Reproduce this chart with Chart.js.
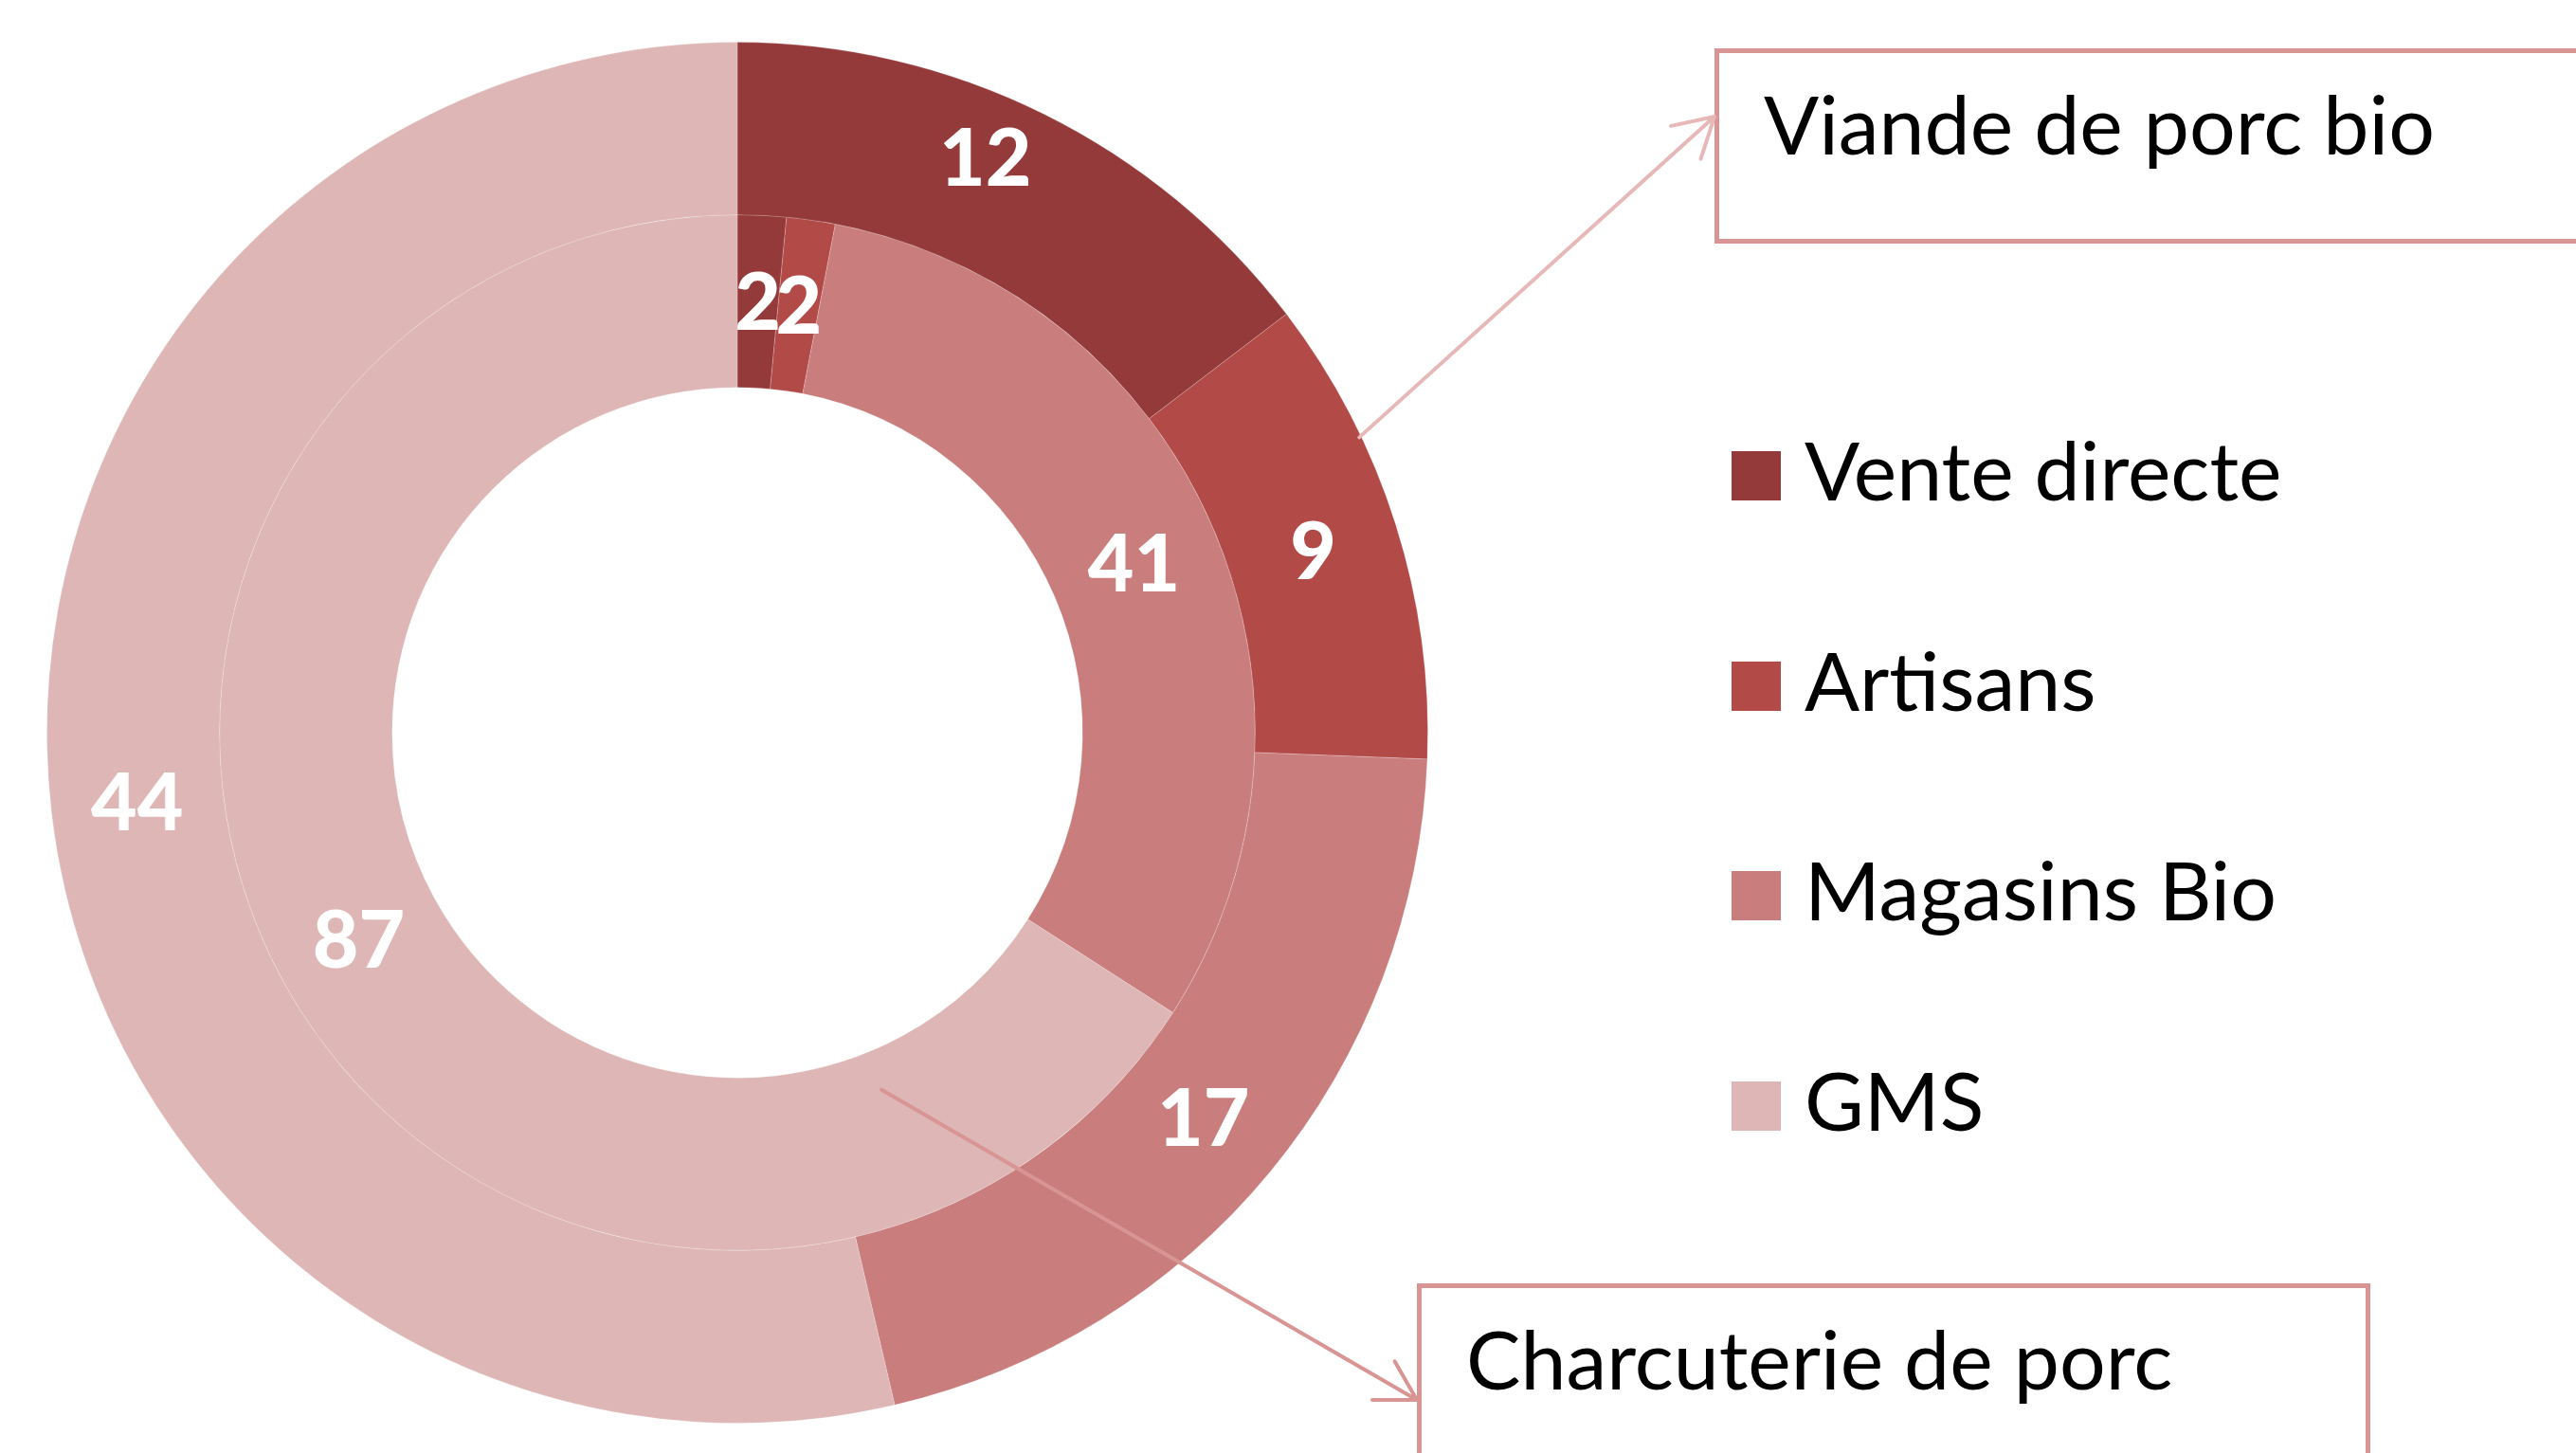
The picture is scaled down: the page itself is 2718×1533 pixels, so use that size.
<!DOCTYPE html>
<html><head><meta charset="utf-8">
<script src="https://cdn.jsdelivr.net/npm/chart.js@4.4.0/dist/chart.umd.min.js"></script>
<style>
html,body{margin:0;padding:0;background:#fff;width:2718px;height:1533px;overflow:hidden;font-family:Lato,sans-serif}
.box{position:absolute;border:5px solid #D99594;box-sizing:border-box;background:#fff;z-index:1}
.lbl{position:absolute;font-size:86px;line-height:1;color:#000;white-space:nowrap;z-index:3}
.sw{position:absolute;width:52px;height:52px;z-index:3}
#cv{position:absolute;left:0;top:0;z-index:2}
</style></head>
<body>
<div id="box1" class="box" style="left:1809px;top:51px;width:1000px;height:206px"></div>
<div id="box2" class="box" style="left:1495px;top:1354px;width:1006px;height:300px"></div>
<div id="legend"></div>
<div id="callouts"></div>
<canvas id="cv" width="2718" height="1533"></canvas>
<script>
const categories = ['Vente directe', 'Artisans', 'Magasins Bio', 'GMS'];
const seriesNames = ['Viande de porc bio', 'Charcuterie de porc'];
const viandeValues = [12, 9, 17, 44];
const charcuterieValues = [2, 2, 41, 87];
const colors = ['#953A3A', '#B24A48', '#C97D7D', '#DEB6B6'];

// legend
const legend = document.getElementById('legend');
categories.forEach((c, i) => {
  const rowBase = 528 + i * 221.7;
  const sw = document.createElement('div');
  sw.className = 'sw';
  sw.style.left = '1827px';
  sw.style.top = (rowBase - 52) + 'px';
  sw.style.background = colors[i];
  legend.appendChild(sw);
  const t = document.createElement('div');
  t.className = 'lbl';
  t.style.left = '1904px';
  t.style.top = (rowBase - 76) + 'px';
  t.textContent = c;
  legend.appendChild(t);
});
// callout texts
const callouts = document.getElementById('callouts');
[[seriesNames[0], 1861, 163], [seriesNames[1], 1547, 1466]].forEach(([s, x, b]) => {
  const t = document.createElement('div');
  t.className = 'lbl';
  t.style.left = x + 'px';
  t.style.top = (b - 76) + 'px';
  t.textContent = s;
  callouts.appendChild(t);
});

const labelPlugin = {
  id: 'labels',
  afterDatasetsDraw(chart) {
    const ctx = chart.ctx;
    ctx.save();
    ctx.fillStyle = '#fff';
    ctx.font = '900 84px Lato, sans-serif';
    ctx.textAlign = 'center';
    ctx.textBaseline = 'alphabetic';
    chart.data.datasets.forEach((ds, di) => {
      const meta = chart.getDatasetMeta(di);
      meta.data.forEach((arc, i) => {
        const p = arc.tooltipPosition();
        // the first outer label sits slightly nearer the top edge in the original
        const nudge = (di === 0 && i === 0) ? { x: -21, y: -36 } : { x: 0, y: 0 };
        ctx.fillText(String(ds.data[i]), p.x + nudge.x, p.y + 30 + nudge.y);
      });
    });
    ctx.restore();
  },
  afterDraw(chart) {
    const ctx = chart.ctx;
    const outer = chart.getDatasetMeta(0).data[0];
    const inner = chart.getDatasetMeta(1).data[0];
    const cx = outer.x, cy = outer.y;
    const b1 = document.getElementById('box1');
    const b2 = document.getElementById('box2');
    const arrows = [
      { ang: 64.6, r: outer.outerRadius - 2, ex: b1.offsetLeft, ey: b1.offsetTop + 72, col: '#E6B8B7' },
      { ang: 158, r: inner.innerRadius + 42, ex: b2.offsetLeft, ey: b2.offsetTop + 123, col: '#D99594' }
    ];
    ctx.save();
    ctx.lineWidth = 4;
    ctx.lineCap = 'round';
    arrows.forEach(a => {
      const rad = a.ang * Math.PI / 180;
      const sx = cx + a.r * Math.sin(rad), sy = cy - a.r * Math.cos(rad);
      ctx.strokeStyle = a.col;
      ctx.beginPath();
      ctx.moveTo(sx, sy);
      ctx.lineTo(a.ex, a.ey);
      const back = Math.atan2(sy - a.ey, sx - a.ex);
      [-Math.PI / 6, Math.PI / 6].forEach(d => {
        ctx.moveTo(a.ex, a.ey);
        ctx.lineTo(a.ex + 47 * Math.cos(back + d), a.ey + 47 * Math.sin(back + d));
      });
      ctx.stroke();
    });
    ctx.restore();
  }
};

new Chart(document.getElementById('cv'), {
  type: 'doughnut',
  data: {
    labels: categories,
    datasets: [
      { label: seriesNames[0], data: viandeValues, backgroundColor: colors, borderColor: 'rgba(255,255,255,0.2)', borderWidth: 1 },
      { label: seriesNames[1], data: charcuterieValues, backgroundColor: colors, borderColor: 'rgba(255,255,255,0.2)', borderWidth: 1 }
    ]
  },
  options: {
    responsive: false,
    animation: false,
    cutout: '50%',
    layout: { padding: { left: 49, top: 44, right: 1211, bottom: 31 } },
    plugins: { legend: { display: false }, tooltip: { enabled: false } }
  },
  plugins: [labelPlugin]
});
</script>
</body></html>
